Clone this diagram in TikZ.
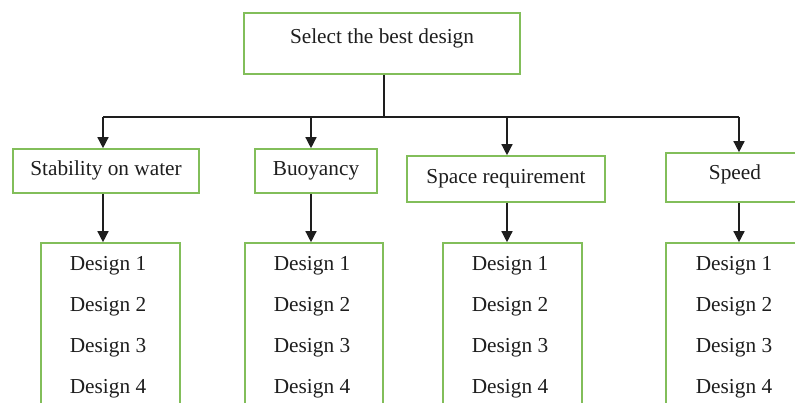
\documentclass[tikz,border=0pt]{standalone}
\usepackage{fontspec}
\setmainfont{Liberation Serif}
\usetikzlibrary{arrows.meta}
\definecolor{boxgreen}{RGB}{130,190,90}
\definecolor{ink}{RGB}{30,30,30}
\begin{document}
\begin{tikzpicture}[x=1pt,y=1pt,
  box/.style={draw=boxgreen,line width=1.6pt,rectangle,inner sep=0pt},
  txt/.style={text=ink,font=\fontsize{21.3}{25}\selectfont,inner sep=0pt},
  conn/.style={draw=ink,line width=1.4pt},
  arr/.style={conn,-{Triangle[width=11pt,length=11pt]}}]
\useasboundingbox (0,0) rectangle (795,-403);
% top
\node[box,minimum width=276pt,minimum height=61pt] (top) at (382,-43.5) {};
\node[txt] (toptxt) at (382,-38.5) {Select the best design};
% level 2
\node[box,minimum width=186pt,minimum height=44pt] (s1) at (106,-171) {};
\node[txt] (s1t) at (106,-170.5) {Stability on water};
\node[box,minimum width=122pt,minimum height=44pt] (s2) at (316,-171) {};
\node[txt] (s2t) at (316,-170.5) {Buoyancy};
\node[box,minimum width=198pt,minimum height=46pt] (s3) at (506,-179) {};
\node[txt] (s3t) at (506,-178.5) {Space requirement};
\node[box,minimum width=140pt,minimum height=49pt] (s4) at (736,-177.5) {};
\node[txt] (s4t) at (735,-174) {Speed};
% design boxes
\node[box,minimum width=139pt,minimum height=180pt] (d1) at (110.5,-333) {};
\node[box,minimum width=138pt,minimum height=180pt] (d2) at (314,-333) {};
\node[box,minimum width=139pt,minimum height=180pt] (d3) at (512.5,-333) {};
\node[box,minimum width=140pt,minimum height=180pt] (d4) at (736,-333) {};
\foreach \n/\x in {1/108,2/312,3/510,4/734}{
  \node[txt] (d\n a) at (\x,-265.5) {Design 1};
  \node[txt] (d\n b) at (\x,-306.5) {Design 2};
  \node[txt] (d\n c) at (\x,-347.5) {Design 3};
  \node[txt] (d\n d) at (\x,-388.5) {Design 4};
}
% connectors
\coordinate (j) at (384,-117);
\coordinate (b1) at (103,-117);
\coordinate (b2) at (311,-117);
\coordinate (b3) at (507,-117);
\coordinate (b4) at (739,-117);
\draw[conn] (top.south -| j) -- (j);
\draw[conn] (b1) -- (b4);
\draw[arr] (b1) -- (b1 |- s1.north);
\draw[arr] (b2) -- (b2 |- s2.north);
\draw[arr] (b3) -- (b3 |- s3.north);
\draw[arr] (b4) -- (b4 |- s4.north);
\draw[arr] (b1 |- s1.south) -- (b1 |- d1.north);
\draw[arr] (b2 |- s2.south) -- (b2 |- d2.north);
\draw[arr] (b3 |- s3.south) -- (b3 |- d3.north);
\draw[arr] (b4 |- s4.south) -- (b4 |- d4.north);
\end{tikzpicture}
\end{document}
